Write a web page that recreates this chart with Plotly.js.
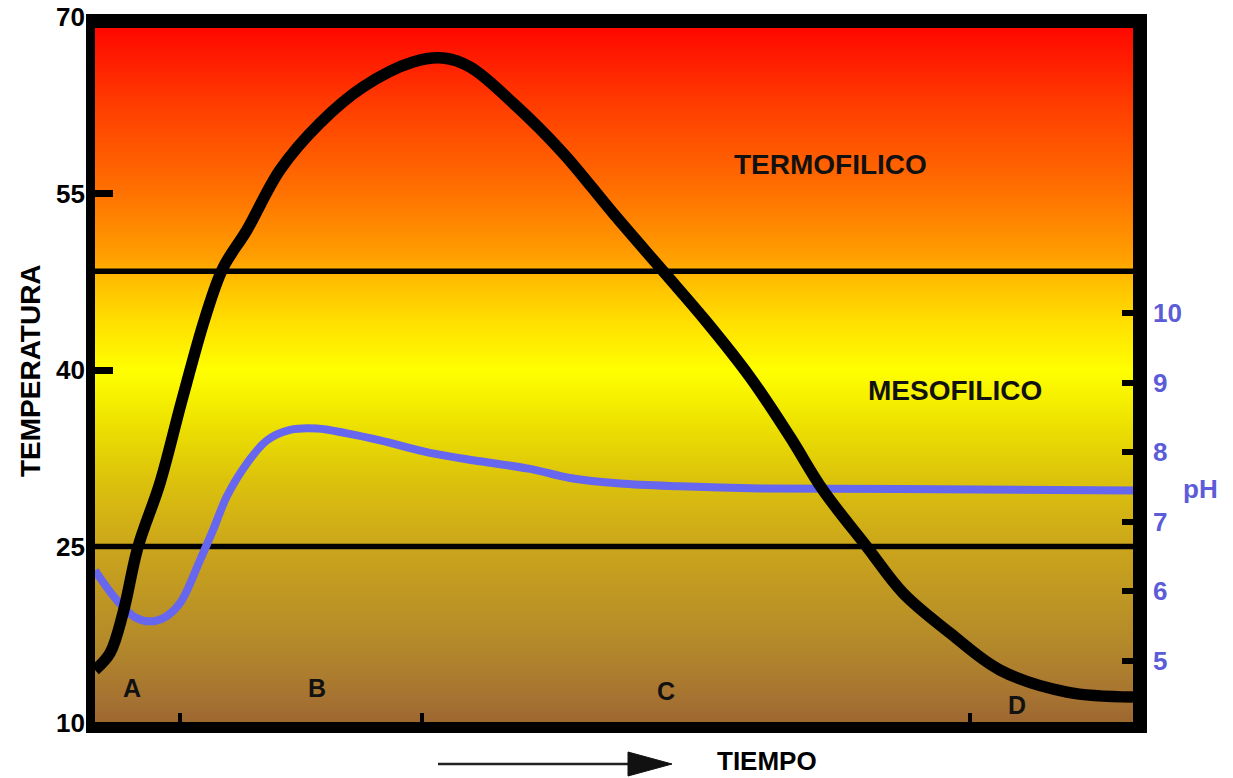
<!DOCTYPE html>
<html>
<head>
<meta charset="utf-8">
<script src="https://cdn.plot.ly/plotly-3.0.1.min.js"></script>
<style>html,body{margin:0;padding:0;background:#fff}#chart{width:1233px;height:778px}</style>
</head>
<body>
<div id="chart"></div>
<script>
// ---- data (time in arbitrary units 0..100) ----
const timeTemp = [0, 1.45, 2.7, 4.14, 6.26, 8.38, 10.6, 12.33, 14.64, 17.82, 21.68, 25.82, 30.64, 33.53, 36.13, 40.27, 45.09, 49.9, 54.72, 58.77, 63.1, 66.96, 70.13, 74.37, 77.84, 82.37, 87.19, 93.64, 100];
const temperature = [14.5, 15.95, 19.35, 24.96, 30.4, 37.45, 44.42, 48.67, 51.9, 57.0, 60.99, 64.05, 66.17, 66.51, 65.75, 62.69, 58.44, 53.34, 48.41, 44.25, 39.4, 34.31, 29.8, 24.96, 21.05, 17.65, 14.5, 12.63, 12.21];

const timePH = [0, 2.12, 3.85, 5.3, 6.74, 8.19, 10.12, 11.37, 12.72, 14.64, 16.57, 18.79, 21.39, 24.28, 27.46, 32.27, 37.09, 41.91, 45.76, 50.58, 56.36, 64.07, 77.55, 100];
const pH = [6.30, 5.87, 5.63, 5.57, 5.63, 5.83, 6.45, 6.88, 7.37, 7.84, 8.17, 8.32, 8.34, 8.27, 8.17, 7.99, 7.87, 7.76, 7.63, 7.55, 7.51, 7.48, 7.47, 7.45];

const zoneLimits = [25, 48.4];             // mesofilico / termofilico limits (°C)
const zoneNames = ['TERMOFILICO', 'MESOFILICO'];
const zoneLabelX = [70.9, 82.85];
const zoneLabelY = [57.5, 38.3];

const phaseNames = ['A', 'B', 'C', 'D'];
const phaseX = [3.56, 21.4, 55.0, 88.8];
const phaseY = [12.97, 12.97, 12.72, 11.53];

const tempTicks = [10, 25, 40, 55, 70];
const tempMarks = [40, 55];
const phTicks = [5, 6, 7, 8, 9, 10];
const timeTicks = [8.19, 31.5, 84.3];

const tempRange = [10, 70];
const phRange = [4.109, 14.253];
const timeRange = [0, 100];

// ---- background gradient (temperature -> colour) ----
const bgTemps = [10, 12, 17, 24.7, 30.7, 35.8, 40, 44, 47.6, 49.3, 55.3, 62.9, 70];
const bgColors = ['#9c6630', '#a67232', '#b48a2a', '#caa41c', '#dcc20c', '#eee400', '#ffff00', '#ffe000', '#ffbe00', '#ffa200', '#ff7000', '#ff3a00', '#ff0000'];
const colorscale = bgTemps.map((t, i) => [(t - tempRange[0]) / (tempRange[1] - tempRange[0]), bgColors[i]]);

const FONT = '"Liberation Sans", Arial, sans-serif';
const BLUE_TXT = '#5c5cd8';
const BLUE_LINE = '#6666ee';

const traces = [
  {
    type: 'heatmap', x: timeRange, y: tempRange,
    z: [[tempRange[0], tempRange[0]], [tempRange[1], tempRange[1]]],
    zmin: tempRange[0], zmax: tempRange[1], colorscale: colorscale,
    zsmooth: 'best', showscale: false, hoverinfo: 'skip', xaxis: 'x', yaxis: 'y'
  },
  ...zoneLimits.map(v => ({
    type: 'scatter', mode: 'lines', x: timeRange, y: [v, v],
    line: {color: '#000', width: 5.5}, hoverinfo: 'skip', showlegend: false, xaxis: 'x', yaxis: 'y'
  })),
  {
    type: 'scatter', mode: 'lines', x: timePH, y: pH, name: 'pH',
    line: {color: BLUE_LINE, width: 8, shape: 'spline', smoothing: 1},
    showlegend: false, xaxis: 'x', yaxis: 'y2'
  },
  {
    type: 'scatter', mode: 'lines', x: timeTemp, y: temperature, name: 'Temperatura',
    line: {color: '#000', width: 11.5, shape: 'spline', smoothing: 1},
    showlegend: false, xaxis: 'x', yaxis: 'y3'
  }
];

// frame helpers (paper coords)
const P = {l: 95, r: 1133, t: 17, b: 723};
const px = v => (v - P.l) / (P.r - P.l);
const py = v => (P.b - v) / (P.b - P.t);

const shapes = [
  {type: 'line', xref: 'paper', yref: 'paper', x0: px(90.5), x1: px(90.5), y0: py(733), y1: py(14), line: {color: '#000', width: 9}},
  {type: 'line', xref: 'paper', yref: 'paper', x0: px(1140), x1: px(1140), y0: py(733), y1: py(14), line: {color: '#000', width: 14}},
  {type: 'line', xref: 'paper', yref: 'paper', x0: px(86), x1: px(1147), y0: py(21), y1: py(21), line: {color: '#000', width: 14}},
  {type: 'line', xref: 'paper', yref: 'paper', x0: px(86), x1: px(1147), y0: py(727.5), y1: py(727.5), line: {color: '#000', width: 11}},
  // TIEMPO arrow
  {type: 'line', xref: 'paper', yref: 'paper', x0: px(438), x1: px(640), y0: py(764), y1: py(764), line: {color: '#222', width: 2.5}},
  {type: 'path', xref: 'paper', yref: 'paper', path: `M ${px(628)} ${py(752)} L ${px(628)} ${py(776)} L ${px(672)} ${py(764)} Z`, fillcolor: '#111', line: {color: '#111', width: 1}}
];

const annotations = [
  ...zoneNames.map((n, i) => ({
    text: n, x: zoneLabelX[i], y: zoneLabelY[i], xref: 'x', yref: 'y', showarrow: false,
    font: {family: FONT, size: 28, weight: 700, color: '#111'}
  })),
  ...phaseNames.map((n, i) => ({
    text: n, x: phaseX[i], y: phaseY[i], xref: 'x', yref: 'y', showarrow: false,
    font: {family: FONT, size: 25, weight: 700, color: '#111'}
  })),
  {text: 'TEMPERATURA', xref: 'paper', yref: 'paper', x: px(30), y: py(371), textangle: -90,
   showarrow: false, xanchor: 'center', yanchor: 'middle', font: {family: FONT, size: 28, weight: 700, color: '#000'}},
  {text: 'TIEMPO', xref: 'paper', yref: 'paper', x: px(767), y: py(761), borderpad: 0,
   showarrow: false, xanchor: 'center', yanchor: 'middle', font: {family: FONT, size: 26, weight: 700, color: '#000'}},
  {text: 'pH', xref: 'paper', yref: 'paper', x: px(1200), y: py(489),
   showarrow: false, xanchor: 'center', yanchor: 'middle', font: {family: FONT, size: 26, weight: 700, color: BLUE_TXT}}
];

const layout = {
  width: 1233, height: 778,
  margin: {l: P.l, r: 1233 - P.r, t: P.t, b: 778 - P.b, pad: 0},
  paper_bgcolor: '#fff', plot_bgcolor: '#fff',
  showlegend: false,
  xaxis: {range: timeRange, showgrid: false, zeroline: false, showline: false,
          ticks: 'inside', tickvals: timeTicks, ticklen: 10, tickwidth: 4, tickcolor: '#000', showticklabels: false},
  yaxis: {range: tempRange, showgrid: false, zeroline: false, showline: false,
          ticks: '', tickvals: tempTicks, ticklabelstandoff: 9,
          tickfont: {family: FONT, size: 26, weight: 700, color: '#000'}},
  yaxis2: {range: phRange, overlaying: 'y', side: 'right', showgrid: false, zeroline: false, showline: false,
           ticks: 'inside', tickvals: phTicks, ticklen: 11, tickwidth: 6, tickcolor: '#000', ticklabelstandoff: 19,
           tickfont: {family: FONT, size: 26, weight: 700, color: BLUE_TXT}},
  yaxis3: {range: tempRange, overlaying: 'y', side: 'left', showgrid: false, zeroline: false, showline: false,
           ticks: 'inside', tickvals: tempMarks, ticklen: 18, tickwidth: 7, tickcolor: '#000', showticklabels: false},
  shapes: shapes,
  annotations: annotations
};

Plotly.newPlot('chart', traces, layout, {displayModeBar: false, staticPlot: true});
</script>
</body>
</html>
